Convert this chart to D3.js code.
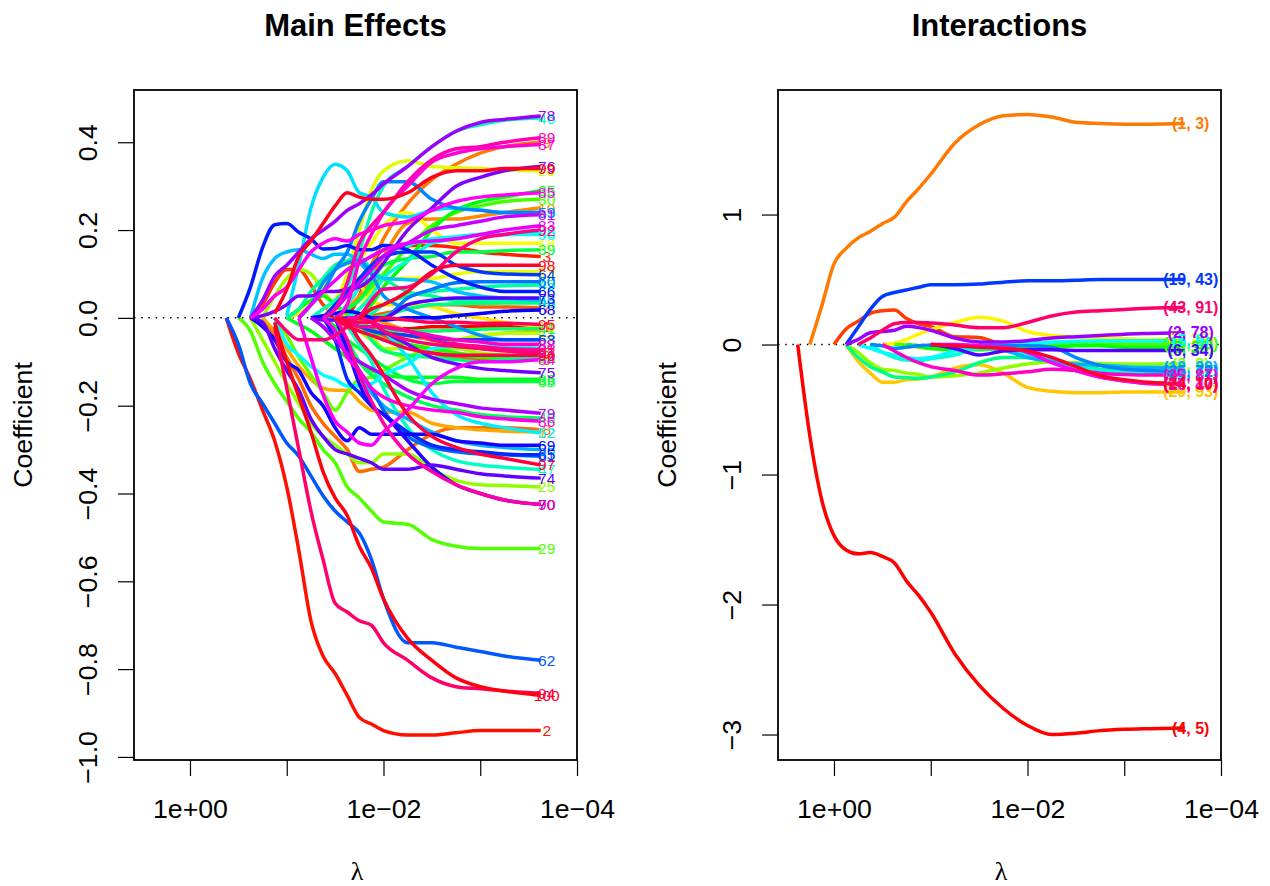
<!DOCTYPE html>
<html>
<head>
<meta charset="utf-8">
<script src="https://d3js.org/d3.v7.min.js"></script>
<style>
  html, body { margin: 0; padding: 0; background: #fff; }
  text { font-family: "Liberation Sans", Arial, sans-serif; fill: #000; }
</style>
</head>
<body>
<svg id="chart" width="1270" height="886"></svg>
<script>
var mainGrid = [-0.375, -0.5, -0.625, -0.75, -0.875, -1, -1.125, -1.25, -1.375, -1.5, -1.625, -1.75, -1.875, -2, -2.25, -2.5, -2.75, -3, -3.25, -3.625];
var interGrid = [0.375, 0.25, 0.125, 0, -0.125, -0.25, -0.375, -0.5, -0.625, -0.75, -0.875, -1, -1.25, -1.5, -1.75, -2, -2.25, -2.5, -2.75, -3, -3.25, -3.625];

var mainIds = [
  1, 2, 3, 5, 6, 7, 8, 9, 10, 11,
  12, 16, 18, 19, 20, 22, 24, 25, 28, 29,
  30, 33, 35, 36, 38, 39, 40, 41, 42, 43,
  44, 45, 46, 47, 48, 50, 51, 52, 53, 55,
  56, 58, 59, 60, 61, 62, 63, 64, 65, 66,
  68, 69, 70, 73, 74, 75, 76, 78, 79, 81,
  83, 84, 85, 86, 87, 88, 89, 90, 91, 92,
  93, 94, 95, 96, 97, 98, 99, 100
];

var mainValues = [
  /* 1 */ [0, 0, 0.01, 0, -0.01, -0.02, -0.025, -0.02, -0.02, -0.02, -0.02, -0.02],
  /* 2 */ [0, -0.08, -0.14, -0.21, -0.28, -0.385, -0.53, -0.69, -0.77, -0.81, -0.86, -0.91, -0.925, -0.94, -0.95, -0.95, -0.945, -0.94, -0.94, -0.94],
  /* 3 */ [0, 0.05, 0.12, 0.155, 0.165, 0.165, 0.16, 0.15, 0.145, 0.14],
  /* 5 */ [0, 0.03, 0.08, 0.11, 0.11, 0.075, 0.03, 0.01, 0, -0.005, -0.01, -0.03, -0.04, -0.05, -0.06, -0.07, -0.075, -0.08],
  /* 6 */ [0, -0.01, -0.025, -0.04, -0.06, -0.08, -0.09, -0.095, -0.095, -0.095],
  /* 7 */ [0, 0.005, 0.01, 0.02, 0.03, 0.03, 0.025, 0.025, 0.023],
  /* 8 */ [0, -0.04, -0.09, -0.14, -0.2, -0.24, -0.27, -0.3, -0.35, -0.345, -0.34, -0.3, -0.265, -0.25, -0.25, -0.25, -0.255],
  /* 9 */ [0, 0.03, 0.07, 0.12, 0.18, 0.26, 0.315, 0.35, 0.375, 0.39, 0.4],
  /* 10 */ [0, 0.02, 0.05, 0.09, 0.14, 0.215, 0.225, 0.225, 0.232, 0.24, 0.25],
  /* 11 */ [0, -0.01, -0.03, -0.05, -0.05, -0.04, -0.035, -0.03],
  /* 12 */ [0, -0.03, -0.07, -0.11, -0.14, -0.16, -0.165, -0.165, -0.19, -0.21, -0.215, -0.215, -0.24, -0.25, -0.255, -0.258, -0.26],
  /* 16 */ [0, 0.01, 0.03, 0.07, 0.12, 0.13, 0.08, 0.04, 0.03, 0.03, 0.025, 0.01, 0, -0.01, -0.02],
  /* 18 */ [0, 0.04, 0.09, 0.13, 0.17, 0.21, 0.24, 0.2, 0.17, 0.17, 0.17, 0.17],
  /* 19 */ [0, 0.02, 0.06, 0.085, 0.09, 0.09, 0.1, 0.105, 0.105, 0.105],
  /* 20 */ [0, 0.03, 0.1, 0.2, 0.29, 0.335, 0.358, 0.345, 0.342, 0.34, 0.337, 0.335],
  /* 22 */ [0, -0.02, -0.04, -0.07, -0.07, -0.06, -0.05, -0.04, -0.035, -0.035],
  /* 24 */ [0, 0.05, 0.09, 0.11, 0.1, 0.06, 0.03, 0, -0.03, -0.05, -0.07, -0.09, -0.08, -0.07, -0.08, -0.085, -0.09],
  /* 25 */ [0, -0.05, -0.1, -0.15, -0.195, -0.24, -0.27, -0.29, -0.31, -0.33, -0.33, -0.31, -0.31, -0.345, -0.37, -0.38, -0.382, -0.385],
  /* 28 */ [0, -0.04, -0.09, -0.13, -0.17, -0.21, -0.17, -0.14, -0.135, -0.12, -0.09, -0.07, -0.08, -0.085, -0.09, -0.09],
  /* 29 */ [0, -0.03, -0.1, -0.15, -0.19, -0.23, -0.26, -0.3, -0.33, -0.385, -0.41, -0.44, -0.465, -0.47, -0.505, -0.52, -0.525, -0.525, -0.525],
  /* 30 */ [0, 0.02, 0.04, 0.07, 0.1, 0.16, 0.21, 0.24, 0.255, 0.265, 0.27],
  /* 33 */ [0, 0.02, 0.04, 0.05, 0.03, 0.01, -0.01, -0.03, -0.05, -0.06, -0.07, -0.08, -0.09, -0.09, -0.09],
  /* 35 */ [0, 0.03, 0.07, 0.13, 0.2, 0.245, 0.265, 0.275, 0.29],
  /* 36 */ [0, -0.015, -0.03, -0.05, -0.07, -0.09, -0.1, -0.12, -0.13, -0.135, -0.135, -0.135, -0.14, -0.14, -0.14],
  /* 38 */ [0, -0.02, -0.05, -0.07, -0.09, -0.11, -0.14, -0.15, -0.145, -0.145, -0.145, -0.145],
  /* 39 */ [0, 0.02, 0.04, 0.08, 0.12, 0.135, 0.14, 0.15, 0.15, 0.153, 0.155],
  /* 40 */ [0, -0.05, -0.1, -0.13, -0.15, -0.18, -0.2, -0.21, -0.22, -0.225, -0.228],
  /* 41 */ [0, -0.005, -0.01, -0.015, -0.02, -0.025, -0.03, -0.03, -0.028, -0.026, -0.025, -0.025],
  /* 42 */ [0, -0.01, -0.05, -0.075, -0.085, -0.09, -0.095, -0.1, -0.095, -0.09],
  /* 43 */ [0, 0.005, 0.02, 0.03, 0.032, 0.033, 0.034, 0.034],
  /* 44 */ [0, 0.02, 0.06, 0.09, 0.12, 0.13, 0.14, 0.11, 0.09, 0.06, 0.05, 0.04, 0.04, 0.04, 0.04],
  /* 45 */ [0, 0.01, 0.03, 0.05, 0.06, 0.065, 0.07, 0.073, 0.075],
  /* 46 */ [0, 0.02, 0.04, 0.07, 0.15, 0.24, 0.3, 0.345, 0.39, 0.425, 0.44, 0.45, 0.455],
  /* 47 */ [0, -0.02, -0.06, -0.1, -0.16, -0.25, -0.3, -0.325, -0.335, -0.34, -0.345],
  /* 48 */ [0, 0.02, 0.05, 0.09, 0.13, 0.17, 0.18, 0.19, 0.19, 0.195],
  /* 50 */ [0, 0.03, 0.07, 0.11, 0.14, 0.165, 0.18, 0.185, 0.19, 0.19, 0.19],
  /* 51 */ [0, -0.06, -0.085, -0.11, -0.13, -0.14, -0.155, -0.155, -0.15, -0.13, -0.105, -0.07, -0.065, -0.065, -0.065, -0.07],
  /* 52 */ [0, -0.01, -0.03, -0.09, -0.17, -0.22, -0.24, -0.25, -0.262],
  /* 53 */ [0.005, 0.12, 0.25, 0.32, 0.35, 0.335, 0.285, 0.275, 0.24, 0.23, 0.245, 0.25, 0.245, 0.24, 0.24],
  /* 55 */ [0, 0.09, 0.135, 0.15, 0.155, 0.145, 0.135, 0.145, 0.145, 0.125, 0.1, 0.09, 0.087, 0.082, 0.06, 0.05, 0.045, 0.04],
  /* 56 */ [0, -0.02, -0.05, -0.08, -0.12, -0.17, -0.2, -0.23, -0.26, -0.28, -0.29, -0.295, -0.3],
  /* 58 */ [0, 0.03, 0.08, 0.11, 0.125, 0.13, 0.1, 0.05, 0.02, 0, -0.02, -0.04, -0.05, -0.05],
  /* 59 */ [0, 0.03, 0.06, 0.11, 0.15, 0.22, 0.27, 0.31, 0.31, 0.27, 0.25, 0.245, 0.24, 0.24],
  /* 60 */ [0, 0, 0.045, 0.065, 0.08, 0.082, 0.082, 0.082],
  /* 61 */ [0, -0.03, -0.07, -0.12, -0.16, -0.21, -0.27, -0.295, -0.305, -0.31, -0.312, -0.315],
  /* 62 */ [0, -0.06, -0.15, -0.195, -0.24, -0.285, -0.315, -0.36, -0.405, -0.44, -0.465, -0.49, -0.55, -0.64, -0.74, -0.74, -0.75, -0.76, -0.77, -0.78],
  /* 63 */ [0, -0.01, -0.02, -0.03, -0.035, -0.04, -0.045, -0.05, -0.05, -0.05, -0.05],
  /* 64 */ [0, 0.03, 0.06, 0.09, 0.12, 0.14, 0.15, 0.15, 0.12, 0.105, 0.1, 0.098],
  /* 65 */ [0, -0.05, -0.14, -0.17, -0.2, -0.22, -0.26, -0.29, -0.3, -0.305, -0.31, -0.312],
  /* 66 */ [0, 0.07, 0.16, 0.212, 0.215, 0.195, 0.18, 0.157, 0.158, 0.165, 0.155, 0.155, 0.165, 0.155, 0.12, 0.09, 0.07, 0.06, 0.06],
  /* 68 */ [0, 0.005, 0.01, 0.015, 0.01, 0, -0.005, 0, 0, 0.005, 0.01, 0.015, 0.018],
  /* 69 */ [0, -0.02, -0.05, -0.1, -0.12, -0.17, -0.2, -0.25, -0.28, -0.25, -0.265, -0.265, -0.265, -0.265, -0.28, -0.285, -0.29, -0.29],
  /* 70 */ [0, -0.07, -0.15, -0.2, -0.22, -0.28, -0.34, -0.38, -0.4, -0.415, -0.425],
  /* 73 */ [0, 0, 0.03, 0.04, 0.045, 0.045, 0.045, 0.045],
  /* 74 */ [0, -0.01, -0.07, -0.12, -0.165, -0.23, -0.27, -0.3, -0.31, -0.32, -0.33, -0.345, -0.345, -0.335, -0.345, -0.355, -0.36, -0.365],
  /* 75 */ [0, -0.005, -0.005, 0, 0, -0.01, -0.03, -0.06, -0.09, -0.105, -0.115, -0.12, -0.125],
  /* 76 */ [0, 0.005, 0.015, 0.03, 0.05, 0.05, 0.06, 0.06, 0.065, 0.07, 0.09, 0.125, 0.2, 0.25, 0.3, 0.32, 0.335, 0.345],
  /* 78 */ [0, 0.04, 0.095, 0.12, 0.15, 0.18, 0.2, 0.22, 0.245, 0.26, 0.28, 0.305, 0.345, 0.39, 0.425, 0.445, 0.452, 0.46],
  /* 79 */ [0, -0.02, -0.05, -0.08, -0.1, -0.115, -0.13, -0.165, -0.185, -0.195, -0.205, -0.21, -0.217],
  /* 81 */ [0, 0.02, 0.05, 0.08, 0.11, 0.14, 0.17, 0.2, 0.21, 0.22, 0.23, 0.235],
  /* 83 */ [0, 0.03, 0.06, 0.085, 0.11, 0.125, 0.14, 0.155, 0.17, 0.175, 0.18, 0.19, 0.2, 0.21],
  /* 84 */ [0, -0.09, -0.175, -0.235, -0.26, -0.285, -0.29, -0.26, -0.21, -0.15, -0.115, -0.1, -0.1, -0.095],
  /* 85 */ [0, 0.02, 0.05, 0.07, 0.11, 0.15, 0.17, 0.18, 0.175, 0.19, 0.2, 0.21, 0.22, 0.245, 0.265, 0.275, 0.28, 0.285],
  /* 86 */ [0, -0.03, -0.09, -0.12, -0.16, -0.18, -0.2, -0.21, -0.215, -0.225, -0.23, -0.235],
  /* 87 */ [0, 0.03, 0.13, 0.19, 0.24, 0.3, 0.355, 0.375, 0.385, 0.39, 0.395],
  /* 88 */ [0, 0, -0.01, -0.02, -0.03, -0.04, -0.05, -0.055, -0.06, -0.06],
  /* 89 */ [0, 0.02, 0.08, 0.17, 0.21, 0.24, 0.31, 0.36, 0.385, 0.39, 0.4, 0.41],
  /* 90 */ [0, -0.05, -0.13, -0.19, -0.24, -0.31, -0.35, -0.38, -0.4, -0.415, -0.425],
  /* 91 */ [0, -0.01, -0.02, -0.02, -0.02, -0.03, -0.05, -0.06, -0.065, -0.07, -0.072],
  /* 92 */ [0, 0.04, 0.065, 0.07, 0.1, 0.15, 0.18, 0.19, 0.2],
  /* 93 */ [0, -0.03, -0.05, -0.05, -0.05, -0.04, -0.02, 0, -0.01, -0.03, -0.05, -0.06, -0.065, -0.07, -0.075, -0.08],
  /* 94 */ [-0.02, -0.16, -0.3, -0.44, -0.55, -0.65, -0.67, -0.69, -0.7, -0.74, -0.78, -0.82, -0.84, -0.845, -0.85, -0.855],
  /* 95 */ [0, -0.005, -0.01, -0.01, 0, -0.005, -0.01, -0.01, -0.012, -0.012, -0.015],
  /* 96 */ [0, -0.02, -0.03, -0.04, -0.05, -0.07, -0.08, -0.085, -0.085, -0.085, -0.085],
  /* 97 */ [0, -0.01, -0.05, -0.085, -0.13, -0.22, -0.27, -0.295, -0.31, -0.32, -0.335],
  /* 98 */ [0, 0.02, 0.03, 0.06, 0.105, 0.12, 0.12, 0.12, 0.12],
  /* 99 */ [0.01, 0.065, 0.14, 0.175, 0.215, 0.255, 0.285, 0.275, 0.27, 0.27, 0.285, 0.32, 0.335, 0.335, 0.34, 0.34],
  /* 100 */ [-0.01, -0.1, -0.18, -0.26, -0.35, -0.41, -0.45, -0.52, -0.57, -0.64, -0.73, -0.78, -0.82, -0.84, -0.85, -0.86]
];

// interaction pairs, colour slot on the same rainbow as the main effects
var interIds = [1, 5, 9, 14, 17, 25, 30, 34, 43, 48, 51, 56, 59, 64, 73, 78, 84, 88, 94, 98];
var interNames = [
  "(4, 5)", "(16, 10)", "(1, 3)", "(29, 93)", "(7, 23)", "(3, 8)", "(15, 50)", "(2, 38)", "(12, 67)", "(22, 57)",
  "(5, 9)", "(12, 29)", "(25, 72)", "(19, 43)", "(6, 34)", "(2, 78)", "(16, 47)", "(35, 87)", "(43, 91)", "(24, 10)"
];
var interValues = [
  [0, -0.7, -1.2, -1.47, -1.58, -1.61, -1.6, -1.63, -1.68, -1.82, -1.93, -2.06, -2.38, -2.62, -2.8, -2.93, -3, -2.99, -2.97, -2.96, -2.955, -2.95],
  [0, 0.12, 0.18, 0.24, 0.26, 0.265, 0.2, 0.16, 0.14, 0.06, 0.055, -0.01, -0.07, -0.13, -0.2, -0.25, -0.28, -0.3, -0.31],
  [0, 0.3, 0.62, 0.74, 0.82, 0.87, 0.93, 0.98, 1.1, 1.2, 1.31, 1.55, 1.69, 1.76, 1.77, 1.75, 1.71, 1.7, 1.695, 1.695, 1.7],
  [0, -0.13, -0.22, -0.29, -0.29, -0.27, -0.265, -0.25, -0.18, -0.155, -0.22, -0.33, -0.36, -0.37, -0.37, -0.365, -0.365, -0.365],
  [0, 0.01, 0.04, 0.08, 0.115, 0.17, 0.21, 0.18, 0.1, 0.07, 0.06, 0.05, 0.045, 0.04, 0.04],
  [0, -0.06, -0.14, -0.19, -0.2, -0.22, -0.23, -0.25, -0.24, -0.22, -0.18, -0.15, -0.135, -0.14, -0.145, -0.15, -0.15, -0.15],
  [0, -0.005, -0.02, -0.03, -0.03, -0.025, -0.02, -0.01, 0, 0.005, 0.005, 0.005, 0.005, 0.005],
  [0, -0.01, -0.03, -0.04, -0.04, -0.03, -0.02, -0.02, -0.01, -0.01, -0.02, -0.02, -0.02],
  [0, -0.1, -0.17, -0.21, -0.25, -0.255, -0.26, -0.25, -0.21, -0.14, -0.1, -0.1, -0.13, -0.16, -0.19, -0.2, -0.21, -0.22],
  [0, -0.06, -0.1, -0.12, -0.125, -0.11, -0.08, -0.03, -0.04, -0.08, -0.12, -0.17, -0.2, -0.21, -0.215, -0.22],
  [0, -0.03, -0.06, -0.08, -0.1, -0.11, -0.1, -0.05, -0.01, 0, 0.01, 0.02, 0.025, 0.03, 0.03, 0.03, 0.03],
  [0, -0.04, -0.1, -0.13, -0.15, -0.16, -0.17, -0.175, -0.18],
  [0, -0.01, -0.03, -0.02, -0.01, -0.005, 0, -0.01, -0.01, -0.01, -0.02, -0.1, -0.16, -0.19, -0.2, -0.21],
  [0, 0.135, 0.27, 0.37, 0.4, 0.42, 0.44, 0.46, 0.46, 0.465, 0.48, 0.49, 0.49, 0.495, 0.5, 0.5, 0.5, 0.5],
  [0, -0.03, -0.08, -0.05, -0.04, -0.04, -0.045, -0.045, -0.045, -0.045, -0.045],
  [0, 0.04, 0.09, 0.1, 0.11, 0.14, 0.13, 0.11, 0.05, 0.02, 0.02, 0.03, 0.05, 0.06, 0.07, 0.08, 0.085, 0.09],
  [0, 0, -0.01, -0.02, -0.06, -0.14, -0.2, -0.25, -0.28, -0.3, -0.305],
  [0, -0.05, -0.1, -0.14, -0.17, -0.2, -0.235, -0.225, -0.21, -0.19, -0.2, -0.22, -0.23, -0.235, -0.235],
  [0, 0.05, 0.11, 0.16, 0.17, 0.17, 0.165, 0.15, 0.13, 0.13, 0.17, 0.22, 0.25, 0.26, 0.27, 0.28, 0.285],
  [0, -0.01, -0.02, -0.03, -0.05, -0.1, -0.17, -0.24, -0.27, -0.29, -0.3]
];

var mainTicksY = [-1, -0.8, -0.6, -0.4, -0.2, 0, 0.2, 0.4];
var interTicksY = [-3, -2, -1, 0, 1];
var lambdaTicks = [1, 0.1, 0.01, 0.001, 0.0001];

var svg = d3.select("#chart");

function rainbow(id) {
  return d3.hsl((id - 1) * 3.6, 1, 0.5).formatHex();
}

function minusSign(s) {
  return String(s).replace("-", "\u2212");
}

function panel(opts) {
  var left = opts.left, right = left + 443, top = 90, bottom = 760;

  var x = d3.scaleLog().domain([3.79, 1e-4]).range([left, right]);
  var y = d3.scaleLinear().domain(opts.yDomain).range([bottom, top]);

  // dotted zero line goes under everything
  svg.append("line")
    .attr("x1", left).attr("x2", right)
    .attr("y1", y(0)).attr("y2", y(0))
    .attr("stroke", "#000")
    .attr("stroke-width", 1.5)
    .attr("stroke-dasharray", "1.5 5.7");

  var line = d3.line()
    .x(function (d) { return x(Math.pow(10, d[0])); })
    .y(function (d) { return y(d[1]); })
    .curve(d3.curveMonotoneX);

  var series = opts.ids.map(function (id, i) {
    var row = opts.values[i];
    var offset = opts.grid.length - row.length;
    return {
      color: rainbow(id),
      name: opts.names ? opts.names[i] : String(id),
      points: row.map(function (v, j) { return [opts.grid[j + offset], v]; })
    };
  });

  svg.append("g").selectAll("path")
    .data(series)
    .enter()
    .append("path")
    .attr("d", function (d) { return line(d.points); })
    .attr("fill", "none")
    .attr("stroke", function (d) { return d.color; })
    .attr("stroke-width", 3.5)
    .attr("stroke-linejoin", "round");

  svg.append("g").selectAll("text")
    .data(series)
    .enter()
    .append("text")
    .attr("x", function (d) { return x(Math.pow(10, d.points[d.points.length - 1][0])) + 6; })
    .attr("y", function (d) { return y(d.points[d.points.length - 1][1]) + 5.5; })
    .attr("text-anchor", "middle")
    .attr("font-size", opts.names ? 16 : 15.5)
    .attr("font-weight", opts.names ? "bold" : "normal")
    .style("fill", function (d) { return d.color; })
    .text(function (d) { return d.name; });

  svg.append("rect")
    .attr("x", left).attr("y", top)
    .attr("width", right - left).attr("height", bottom - top)
    .attr("fill", "none")
    .attr("stroke", "#000")
    .attr("stroke-width", 1.8);

  var axisX = d3.axisBottom(x)
    .tickValues(lambdaTicks)
    .tickSize(16)
    .tickSizeOuter(0)
    .tickPadding(23)
    .tickFormat(function (d) {
      if (d === 1) return "1e+00";
      if (d === 0.01) return "1e\u221202";
      if (d === 0.0001) return "1e\u221204";
      return "";
    });

  var gx = svg.append("g").attr("transform", "translate(0," + bottom + ")").call(axisX);
  gx.selectAll("text").attr("font-size", 26.7);
  gx.selectAll("line").attr("stroke-width", 1.2);
  gx.select(".domain").attr("stroke", "none");

  var axisY = d3.axisLeft(y)
    .tickValues(opts.ticksY)
    .tickSize(16)
    .tickSizeOuter(0)
    .tickFormat(function (d) { return minusSign(opts.tickFmt(d)); });

  var gy = svg.append("g").attr("transform", "translate(" + left + ",0)").call(axisY);
  gy.selectAll("line").attr("stroke-width", 1.2);
  gy.select(".domain").attr("stroke", "none");
  gy.selectAll("text")
    .attr("font-size", 26.7)
    .attr("text-anchor", "middle")
    .attr("x", null)
    .attr("dy", null)
    .attr("transform", "translate(-37,0) rotate(-90)");

  svg.append("text")
    .attr("x", (left + right) / 2)
    .attr("y", 36)
    .attr("text-anchor", "middle")
    .attr("font-size", 31)
    .attr("font-weight", "bold")
    .text(opts.title);

  svg.append("text")
    .attr("transform", "translate(" + (left - 102) + "," + (top + bottom) / 2 + ") rotate(-90)")
    .attr("text-anchor", "middle")
    .attr("font-size", 26.7)
    .text("Coefficient");

  svg.append("text")
    .attr("x", (left + right) / 2 + 1.5)
    .attr("y", 880)
    .attr("text-anchor", "middle")
    .attr("font-size", 26)
    .style("font-family", "'Liberation Serif', serif")
    .text("\u03bb");
}

panel({
  left: 134,
  title: "Main Effects",
  grid: mainGrid,
  ids: mainIds,
  values: mainValues,
  yDomain: [-1.007, 0.519],
  ticksY: mainTicksY,
  tickFmt: d3.format(".1f")
});

panel({
  left: 778,
  title: "Interactions",
  grid: interGrid,
  ids: interIds,
  names: interNames,
  values: interValues,
  yDomain: [-3.196, 1.958],
  ticksY: interTicksY,
  tickFmt: d3.format("d")
});
</script>
</body>
</html>
